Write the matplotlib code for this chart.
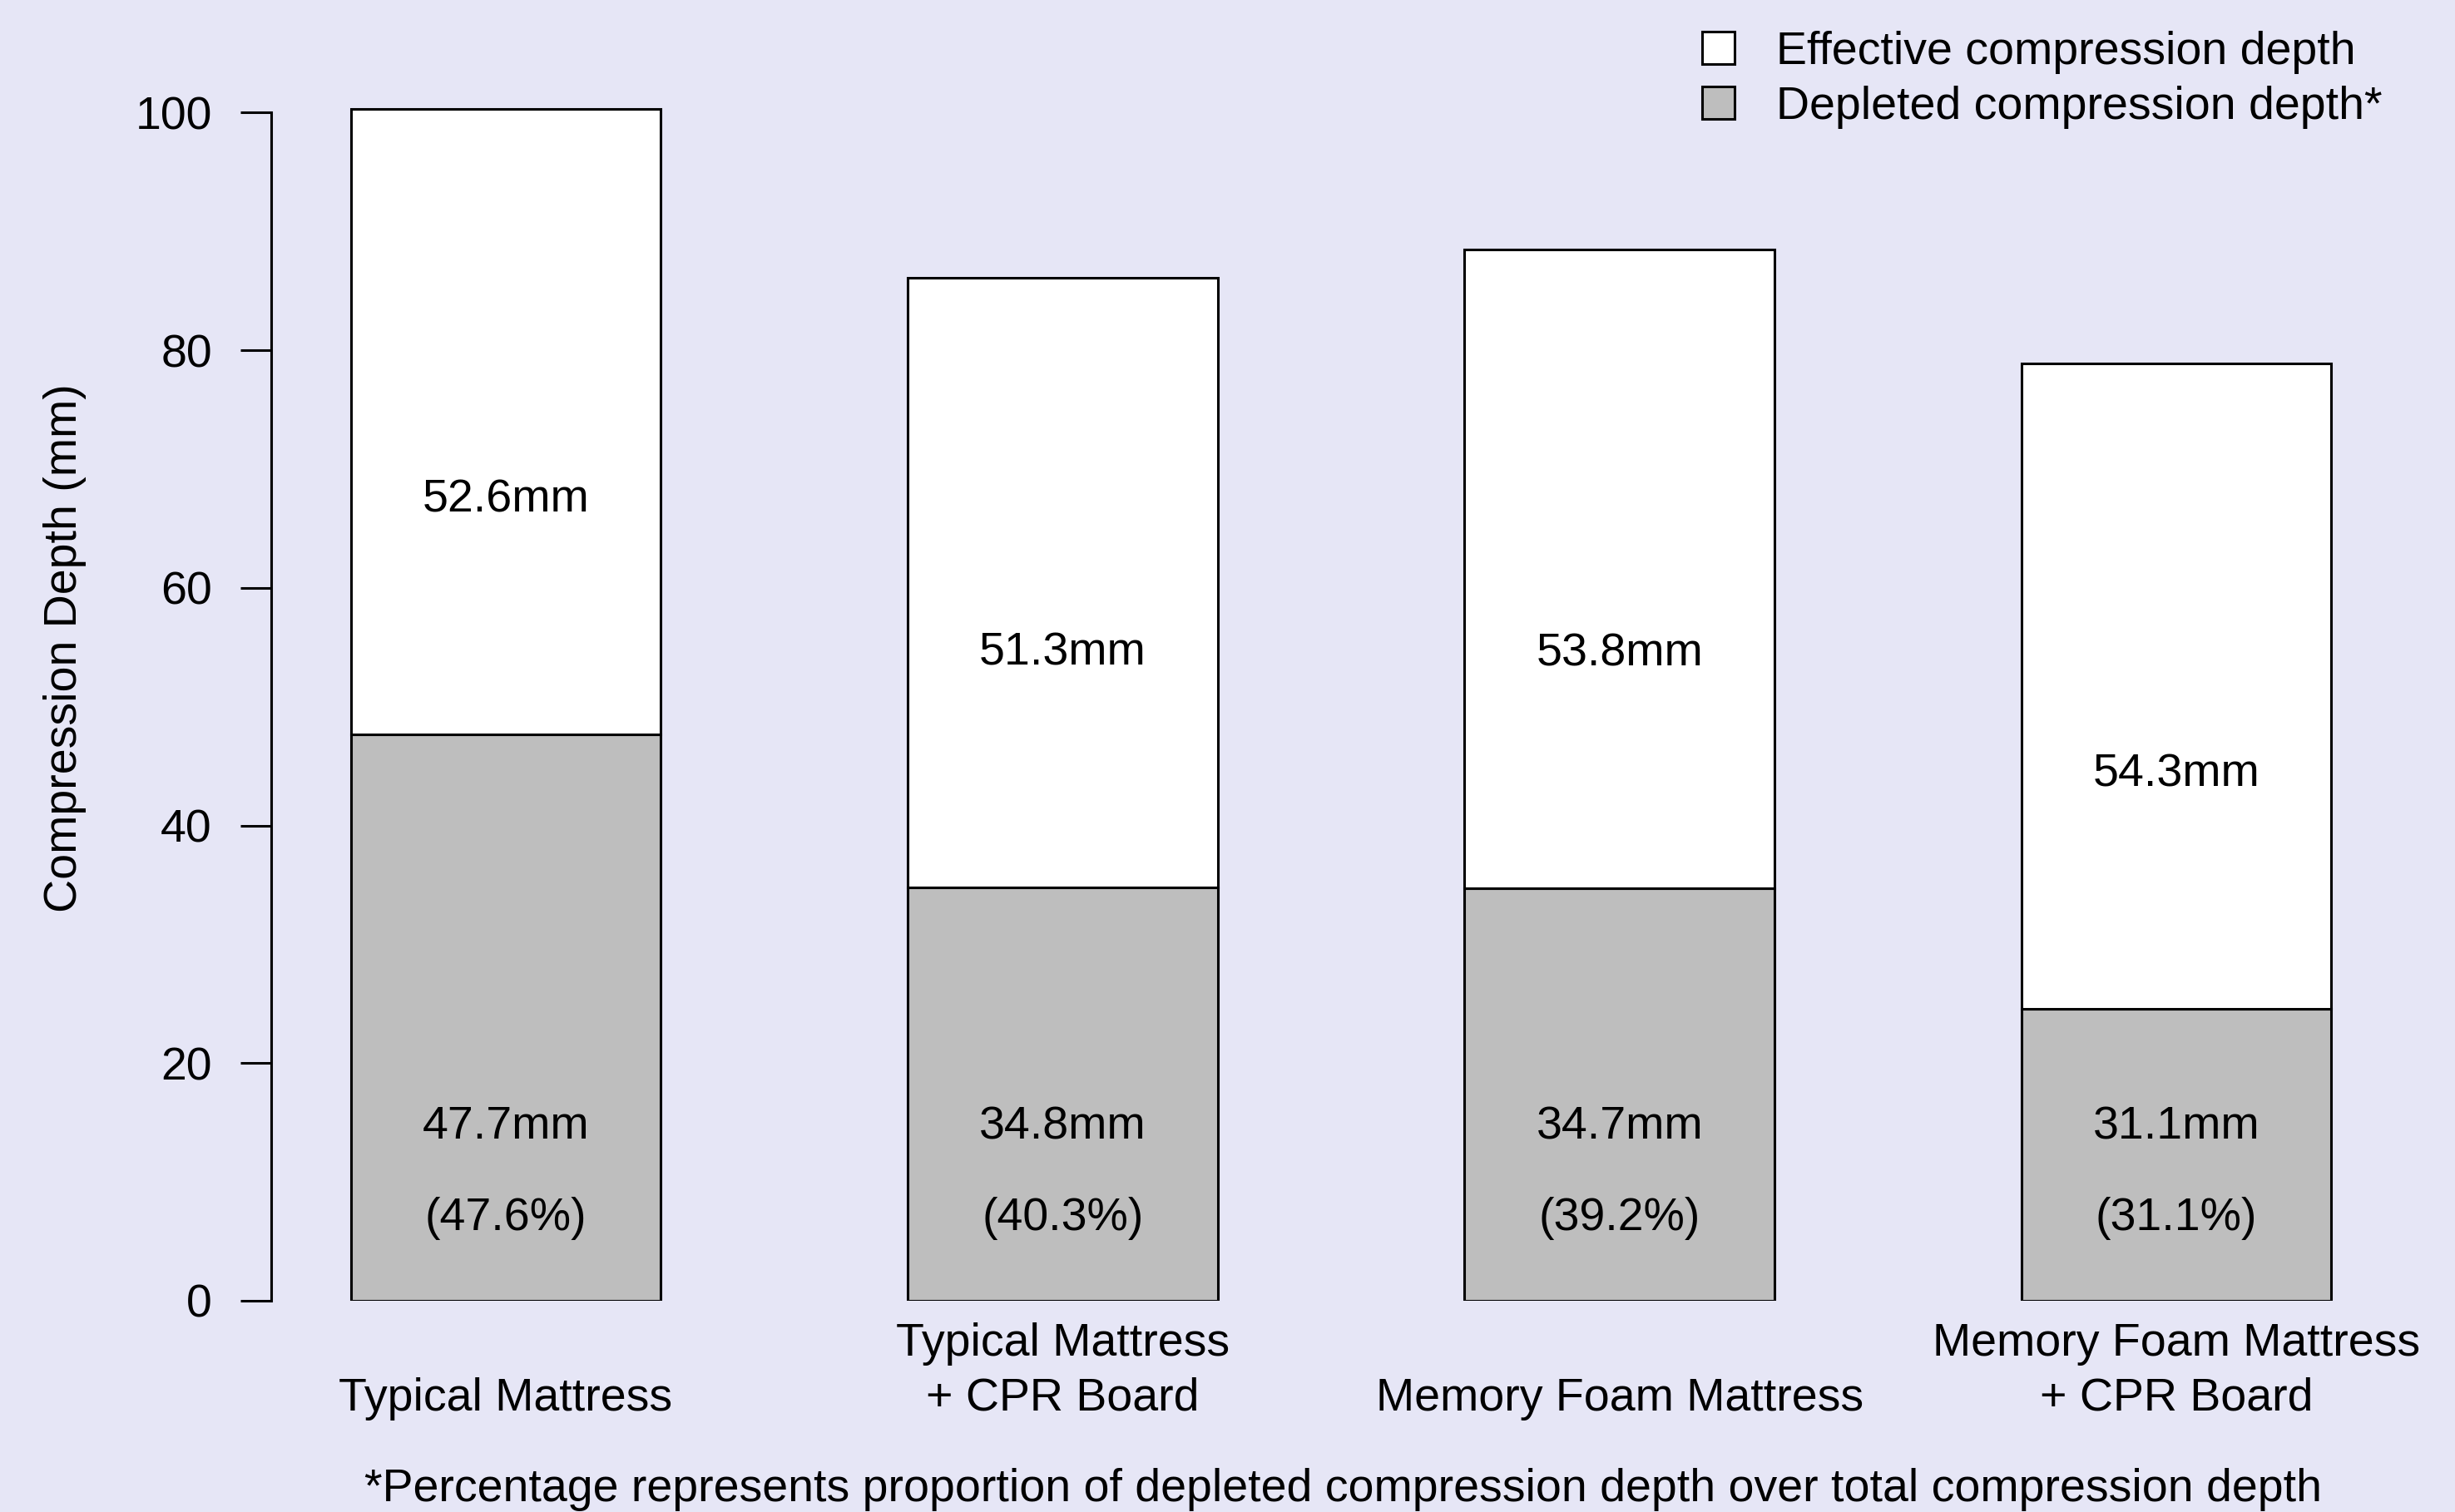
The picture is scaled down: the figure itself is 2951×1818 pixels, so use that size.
import matplotlib
matplotlib.use("Agg")
import matplotlib.pyplot as plt
from matplotlib.patches import Patch

# ---------------- data ----------------
categories = ["Typical Mattress", "Typical Mattress\n+ CPR Board",
              "Memory Foam Mattress", "Memory Foam Mattress\n+ CPR Board"]
depleted = [47.7, 34.8, 34.7, 24.6]
effective = [52.6, 51.3, 53.8, 54.3]
effective_labels = ["52.6mm", "51.3mm", "53.8mm", "54.3mm"]
depleted_labels = ["47.7mm", "34.8mm", "34.7mm", "31.1mm"]
percent_labels = ["(47.6%)", "(40.3%)", "(39.2%)", "(31.1%)"]
yticks = [0, 20, 40, 60, 80, 100]
legend_labels = ["Effective compression depth", "Depleted compression depth*"]
ylabel = "Compression Depth (mm)"
footnote = "*Percentage represents proportion of depleted compression depth over total compression depth"

# ---------------- style ----------------
W, H, DPI = 2951, 1818, 200
BG = "#E6E6F6"
GRAY = "#BEBEBE"
FS = 20
plt.rcParams["font.family"] = ["Liberation Sans", "DejaVu Sans"]

fig = plt.figure(figsize=(W / DPI, H / DPI), dpi=DPI, facecolor=BG)

def fx(px):
    return px / W

def fy(py):
    return 1 - py / H

# axes placement (pixels)
ax_left, ax_right = 325.6, 2951
ax_bottom, ax_top = 1564, 64
ax = fig.add_axes([fx(ax_left), fy(ax_bottom), fx(ax_right) - fx(ax_left),
                   fy(ax_top) - fy(ax_bottom)])
ax.set_facecolor(BG)
ax.patch.set_alpha(0)

spacing = 669.4
c0 = 607.9
bw = 372.7 / spacing
x = list(range(len(categories)))
ax.set_xlim((ax_left - c0) / spacing, (ax_right - c0) / spacing)
ax.set_ylim(0, 105)

lw = 1.1
ax.bar(x, depleted, width=bw, color=GRAY, edgecolor="black", linewidth=lw)
ax.bar(x, effective, bottom=depleted, width=bw, color="white",
       edgecolor="black", linewidth=lw)

for i in x:
    ax.text(i, depleted[i] + 19.7, effective_labels[i],
            ha="center", va="center", fontsize=FS)
    ax.text(i, 14.6, depleted_labels[i], ha="center", va="center", fontsize=FS)
    ax.text(i, 6.9, percent_labels[i], ha="center", va="center", fontsize=FS)

# spines / ticks
for s in ["top", "right", "bottom"]:
    ax.spines[s].set_visible(False)
ax.spines["left"].set_linewidth(lw)
ax.spines["left"].set_bounds(0, 100)
ax.set_yticks(yticks)
ax.set_yticklabels([str(t) for t in yticks])
ax.tick_params(axis="y", length=13.3, width=lw, pad=12.2, labelsize=FS)
ax.set_xticks([])

# category labels (bottom aligned lines)
trans = ax.get_xaxis_transform()
line_py = [1616, 1682]
for i, lab in enumerate(categories):
    lines = lab.split("\n")
    pys = line_py[-len(lines):]
    for ln, py in zip(lines, pys):
        ay = (ax_bottom - py) / (ax_bottom - ax_top)
        ax.text(i, ay, ln, transform=trans, ha="center", va="center",
                fontsize=FS, clip_on=False)

# y label
fig.text(fx(78), fy(779), ylabel, rotation=90, ha="center", va="center",
         fontsize=FS)

# footnote
fig.text(fx(1614), fy(1791), footnote, ha="center", va="center", fontsize=FS)

# legend
handles = [Patch(facecolor="white", edgecolor="black", linewidth=lw),
           Patch(facecolor=GRAY, edgecolor="black", linewidth=lw)]
fig.legend(handles, legend_labels, loc="center left",
           bbox_to_anchor=(fx(2046), fy(96)), frameon=False, fontsize=FS,
           handlelength=0.7, handleheight=0.7, handletextpad=0.9,
           labelspacing=0.24, borderpad=0, borderaxespad=0)

fig.savefig("out.png", dpi=DPI, facecolor=BG)
